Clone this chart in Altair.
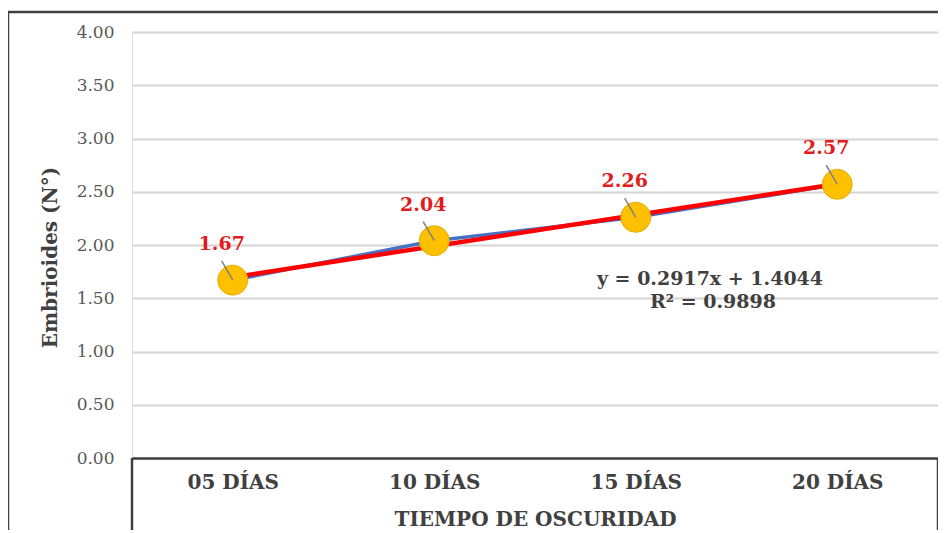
import altair as alt
import pandas as pd

categories = ["05 DÍAS", "10 DÍAS", "15 DÍAS", "20 DÍAS"]
positions = [1, 2, 3, 4]
values = [1.67, 2.04, 2.26, 2.57]
equation = ["y = 0.2917x + 1.4044", "R² = 0.9898"]

df = pd.DataFrame({"x": positions, "y": values, "cat": categories})

W, H = 806, 426
FONT = "'DejaVu Serif', 'Liberation Serif', serif"

label_expr = "datum.value == 1 ? '05 DÍAS' : datum.value == 2 ? '10 DÍAS' : datum.value == 3 ? '15 DÍAS' : datum.value == 4 ? '20 DÍAS' : ''"

xs = alt.Scale(domain=[0.5, 4.5], nice=False, zero=False)
ys = alt.Scale(domain=[0, 4], nice=False)

base = alt.Chart(df)

x_enc = alt.X("x:Q", scale=xs, axis=alt.Axis(
    values=positions, labelExpr=label_expr, title="TIEMPO DE OSCURIDAD",
    grid=False, ticks=False, domain=True, domainColor="#404040", domainWidth=2.5,
    labelFont=FONT, labelFontSize=20, labelFontWeight="bold", labelColor="#404040",
    labelPadding=14, titleFont=FONT, titleFontSize=20, titleFontWeight="bold",
    titleColor="#404040", titlePadding=17))
y_enc = alt.Y("y:Q", scale=ys, axis=alt.Axis(
    values=[0, 0.5, 1, 1.5, 2, 2.5, 3, 3.5, 4], format=".2f", title="Embrioides (N°)",
    grid=True, gridColor="#d4d4d4", gridWidth=2, ticks=False, domain=False,
    labelFont=FONT, labelFontSize=17, labelColor="#595959", labelPadding=18,
    titleFont=FONT, titleFontSize=20, titleFontWeight="bold", titleColor="#404040",
    titlePadding=16, titleY=225))

line = base.mark_line(color="#4472C4", strokeWidth=3.5).encode(x=x_enc, y=y_enc)

points = base.mark_point(filled=True, shape="circle", size=900, color="#FFC000",
                         stroke="#E6AC00", strokeWidth=1, opacity=1).encode(x="x:Q", y="y:Q")

trend = base.transform_regression("x", "y", method="linear", extent=[1, 4]).mark_line(
    color="#FF0000", strokeWidth=4.5).encode(x="x:Q", y="y:Q")

leaders = base.transform_calculate(
    lx="datum.x - 0.055", ly="datum.y + 0.18"
).mark_rule(color="#7f7f7f", strokeWidth=1.5).encode(
    x="x:Q", y="y:Q", x2="lx:Q", y2="ly:Q")

labels = base.mark_text(font=FONT, fontSize=19, fontWeight="bold", color="#E31B1B",
                        dx=-11, dy=-36).encode(x="x:Q", y="y:Q", text=alt.Text("y:Q", format=".2f"))

eq_df1 = pd.DataFrame({"t": [equation[0]]})
eq_df2 = pd.DataFrame({"t": [equation[1]]})
eq1 = alt.Chart(eq_df1).mark_text(font=FONT, fontSize=19, fontWeight="bold", color="#404040").encode(
    x=alt.value(578), y=alt.value(247), text="t:N")
eq2 = alt.Chart(eq_df2).mark_text(font=FONT, fontSize=19, fontWeight="bold", color="#404040").encode(
    x=alt.value(581), y=alt.value(270), text="t:N")

frame_df = pd.DataFrame({"k": [0]})
fb = alt.Chart(frame_df)
box_left = fb.mark_rule(color="#404040", strokeWidth=2.5).encode(
    x=alt.value(0), y=alt.value(H), y2=alt.value(H + 90))
box_right = fb.mark_rule(color="#404040", strokeWidth=2.5).encode(
    x=alt.value(W), y=alt.value(H), y2=alt.value(H + 90))
outer_top = fb.mark_rule(color="#404040", strokeWidth=2.5).encode(
    x=alt.value(-124), x2=alt.value(W + 30), y=alt.value(-20))
outer_left = fb.mark_rule(color="#404040", strokeWidth=2.5).encode(
    x=alt.value(-124), y=alt.value(-20), y2=alt.value(H + 90))

chart = alt.layer(line, trend, points, leaders, labels, eq1, eq2,
                  box_left, box_right, outer_top, outer_left).properties(
    width=W, height=H,
    autosize=alt.AutoSizeParams(type="none"),
    padding={"left": 124, "top": 24, "right": 0, "bottom": 72},
).configure_view(stroke=None).configure(background="white")

chart.save("out.html", embed_options={"renderer": "svg", "actions": False})
